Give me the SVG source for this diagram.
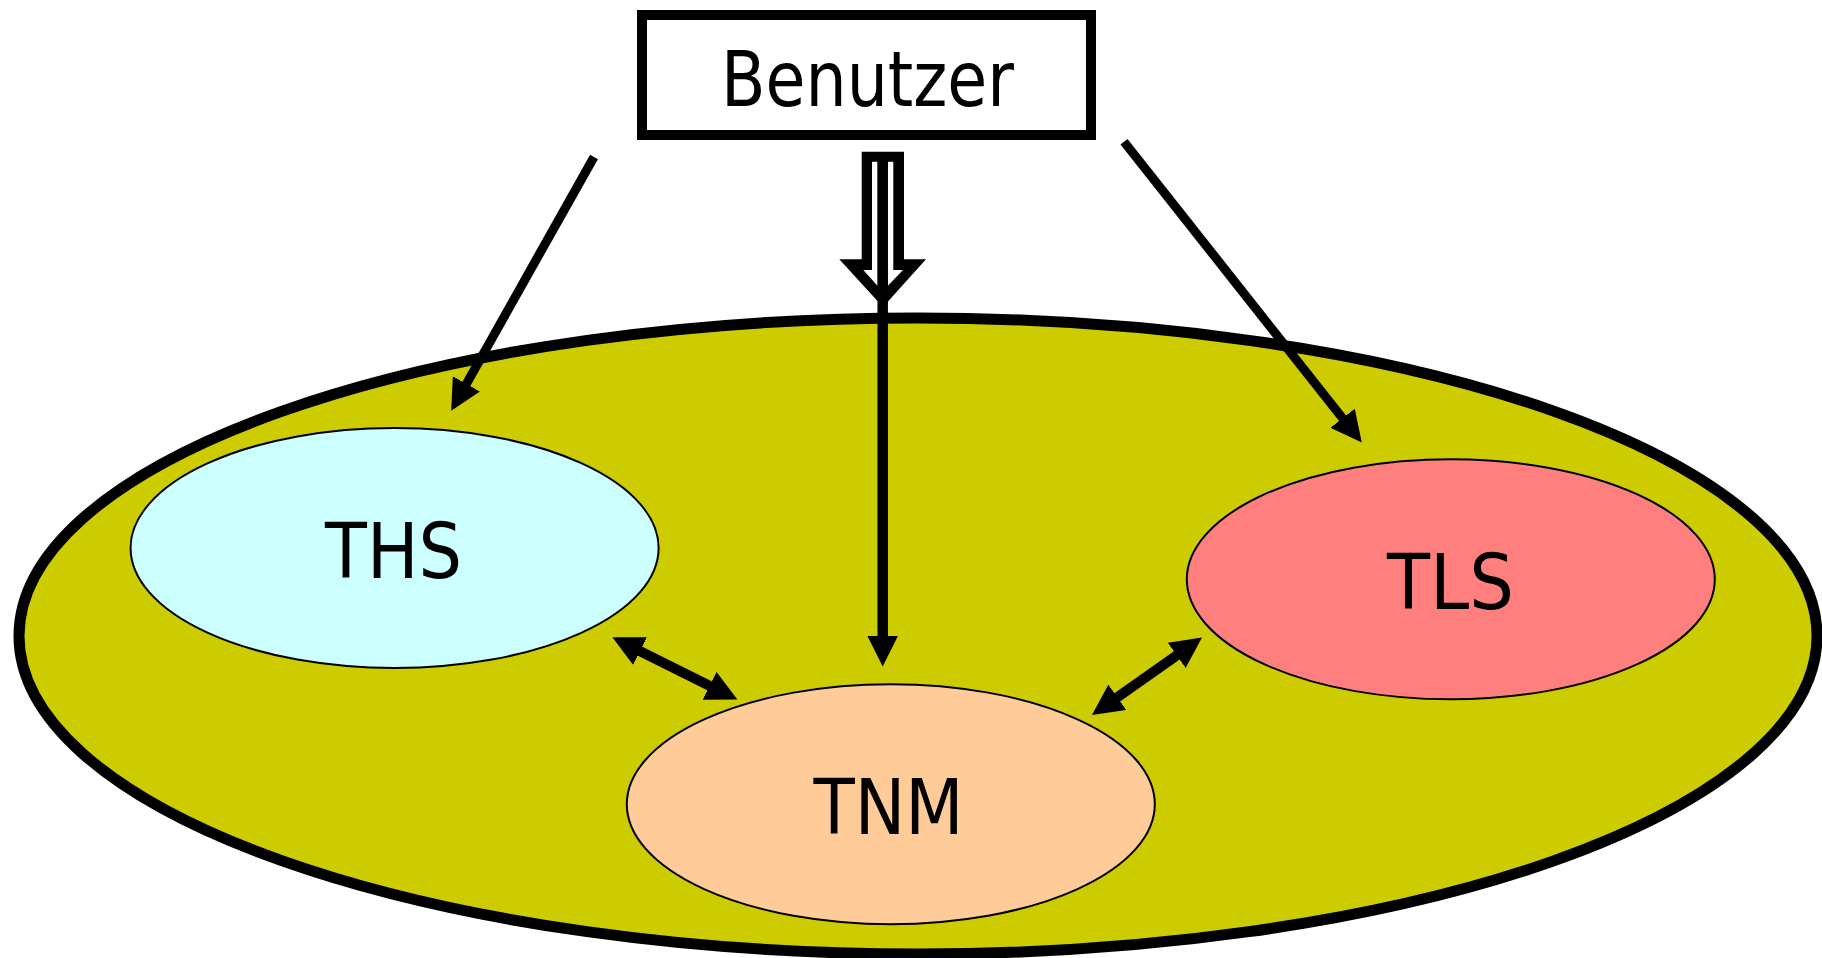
<svg xmlns="http://www.w3.org/2000/svg" width="1822" height="958" viewBox="0 0 1822 958">
<style>
.lbl{font-family:"DejaVu Sans","Liberation Sans",sans-serif;font-size:76px;fill:#000}
.sub{stroke:#000;stroke-width:2}
.conn{stroke:#000;fill:none;stroke-linecap:butt}
</style>
<defs>
<marker id="ah" markerUnits="userSpaceOnUse" markerWidth="32" markerHeight="32" refX="1" refY="15.5" orient="auto-start-reverse" viewBox="0 0 32 31">
<path d="M0,0 L31,15.5 L0,31 z" fill="#000"/>
</marker>
</defs>
<rect width="1822" height="958" fill="#fff"/>
<g id="system">
<ellipse cx="918" cy="636" rx="899" ry="318" fill="#CCCC00" stroke="#000" stroke-width="11"/>
</g>
<g id="THS">
<ellipse class="sub" cx="394.6" cy="548" rx="264" ry="120" fill="#CCFFFF"/>
<text class="lbl" x="325" y="577.7" textLength="137" lengthAdjust="spacingAndGlyphs">THS</text>
</g>
<g id="TLS">
<ellipse class="sub" cx="1450.8" cy="579.3" rx="264" ry="120" fill="#FF7F7F"/>
<text class="lbl" x="1387" y="609" textLength="127" lengthAdjust="spacingAndGlyphs">TLS</text>
</g>
<g id="TNM">
<ellipse class="sub" cx="890.8" cy="804.2" rx="264" ry="120" fill="#FFCC99"/>
<text class="lbl" x="813.5" y="834.3" textLength="150" lengthAdjust="spacingAndGlyphs">TNM</text>
</g>
<g id="Benutzer">
<rect x="642" y="15" width="449" height="120" fill="#fff" stroke="#000" stroke-width="10"/>
<text class="lbl" x="721" y="106" textLength="293" lengthAdjust="spacingAndGlyphs">Benutzer</text>
</g>
<g id="connectors">
<line class="conn" x1="594" y1="157" x2="465.9" y2="384.7" stroke-width="9" marker-end="url(#ah)"/>
<line class="conn" x1="1124" y1="141.7" x2="1343.2" y2="419" stroke-width="9" marker-end="url(#ah)"/>
<path d="M861.7,151.7 L904,151.7 L904,259.3 L926,259.3 L883,307 L839.3,259.3 L861.7,259.3 z" fill="#000"/>
<path d="M872,161.7 L877.7,161.7 L877.7,286 L863.3,270 L872,270 z" fill="#fff"/>
<path d="M887.7,161.7 L893.3,161.7 L893.3,270 L903,270 L887.7,286 z" fill="#fff"/>
<line class="conn" x1="882.7" y1="152" x2="882.7" y2="636.5" stroke-width="10.5" marker-end="url(#ah)"/>
<line class="conn" x1="639.2" y1="650.7" x2="710.5" y2="686.2" stroke-width="10" marker-start="url(#ah)" marker-end="url(#ah)"/>
<line class="conn" x1="1116.5" y1="697.8" x2="1177.5" y2="654.8" stroke-width="10" marker-start="url(#ah)" marker-end="url(#ah)"/>
</g>
</svg>
